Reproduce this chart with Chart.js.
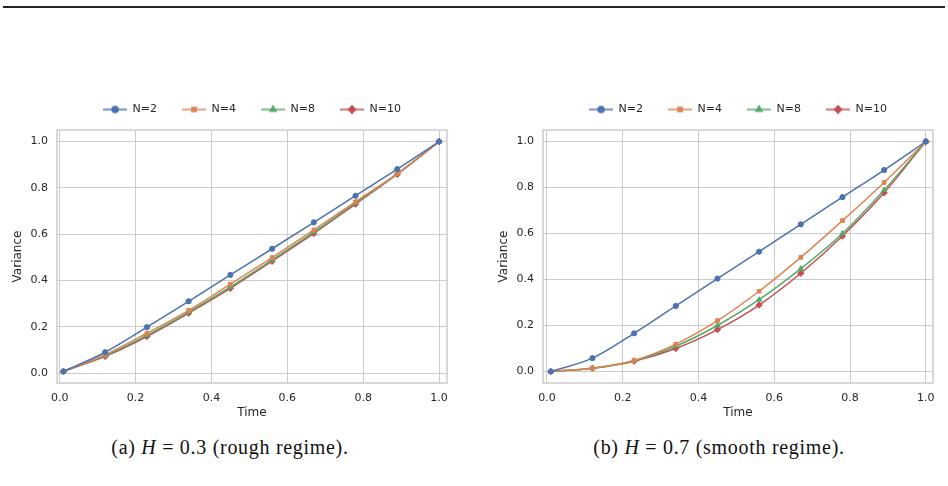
<!DOCTYPE html>
<html>
<head>
<meta charset="utf-8">
<script src="https://cdn.jsdelivr.net/npm/chart.js@4.4.1/dist/chart.umd.min.js"></script>
<style>
  html, body { margin: 0; padding: 0; background: #fff; }
  body { width: 948px; height: 486px; position: relative; overflow: hidden; }
  .rule { position: absolute; left: 3px; top: 6px; width: 942px; height: 2px; background: #222; }
  .panel { position: absolute; top: 79px; height: 346px; }
  .caption { position: absolute; top: 436px; font-family: "Liberation Serif", "DejaVu Serif", serif; font-size: 20px; letter-spacing: 0.7px; color: #111; white-space: nowrap; transform: translateX(-50%); }
</style>
</head>
<body>
<div class="rule"></div>
<div class="panel" style="left:0; width:470px;"><canvas id="rough"></canvas></div>
<div class="panel" style="left:486px; width:462px;"><canvas id="smooth"></canvas></div>
<div class="caption" style="left:230px;">(a) <i>H</i>&nbsp;= 0.3 (rough regime).</div>
<div class="caption" style="left:719px;">(b) <i>H</i>&nbsp;= 0.7 (smooth regime).</div>

<script>
// time grid and tick labels
const times = [0.01, 0.12, 0.23, 0.34, 0.45, 0.56, 0.67, 0.78, 0.89, 1.0];
const xTicks = [0.0, 0.2, 0.4, 0.6, 0.8, 1.0];
const yTicks = [0.0, 0.2, 0.4, 0.6, 0.8, 1.0];
const seriesNames = ['N=2', 'N=4', 'N=8', 'N=10'];

// (a) H = 0.3
const roughN2  = [0.007, 0.090, 0.198, 0.310, 0.424, 0.537, 0.651, 0.766, 0.881, 1.0];
const roughN4  = [0.007, 0.079, 0.172, 0.271, 0.384, 0.499, 0.618, 0.740, 0.862, 1.0];
const roughN8  = [0.007, 0.075, 0.163, 0.263, 0.372, 0.489, 0.609, 0.735, 0.860, 1.0];
const roughN10 = [0.007, 0.072, 0.158, 0.259, 0.366, 0.483, 0.603, 0.730, 0.859, 1.0];

// (b) H = 0.7
const smoothN2  = [0.0, 0.058, 0.166, 0.285, 0.404, 0.521, 0.640, 0.758, 0.876, 1.0];
const smoothN4  = [0.0, 0.014, 0.048, 0.119, 0.221, 0.349, 0.496, 0.656, 0.822, 1.0];
const smoothN8  = [0.0, 0.014, 0.047, 0.110, 0.200, 0.312, 0.447, 0.600, 0.789, 1.0];
const smoothN10 = [0.0, 0.014, 0.045, 0.100, 0.182, 0.289, 0.427, 0.589, 0.777, 1.0];

const colors = ['#4C72B0', '#DD8452', '#55A868', '#C44E52'];
const markers = ['circle', 'rect', 'triangle', 'rectRot'];
const markerSize = [2.6, 2.6, 3, 3.2];

const FONT = '"DejaVu Sans", Verdana, sans-serif';
const TEXT = '#262626';

// little line+marker swatch for the legend
function swatch(i) {
  const c = document.createElement('canvas');
  c.width = 24; c.height = 10;
  const ctx = c.getContext('2d');
  ctx.strokeStyle = colors[i];
  ctx.fillStyle = colors[i];
  ctx.lineWidth = 1.5;
  ctx.beginPath(); ctx.moveTo(0, 5); ctx.lineTo(24, 5); ctx.stroke();
  Chart.helpers.drawPoint(ctx, { pointStyle: markers[i], radius: markerSize[i] + 0.4, rotation: 0, borderWidth: 1 }, 12, 5);
  return c;
}
const swatches = seriesNames.map((n, i) => swatch(i));

// grey box around the plot area
const frame = {
  id: 'frame',
  afterDraw(chart) {
    const a = chart.chartArea, ctx = chart.ctx;
    ctx.save();
    ctx.strokeStyle = '#cccccc';
    ctx.lineWidth = 1.5;
    ctx.strokeRect(a.left, a.top, a.right - a.left, a.bottom - a.top);
    ctx.restore();
  }
};

// extra space between legend and plot
const legendGap = {
  id: 'legendGap',
  beforeInit(chart) {
    const fit = chart.legend.fit;
    chart.legend.fit = function () { fit.call(this); this.height += 5; };
  }
};

function makeChart(id, series, xRange, yRange, rightPad) {
  const datasets = series.map((vals, i) => ({
    label: seriesNames[i],
    data: times.map((t, k) => ({ x: t, y: vals[k] })),
    borderColor: colors[i],
    backgroundColor: colors[i],
    borderWidth: 1.5,
    pointStyle: markers[i],
    pointRadius: markerSize[i],
    pointBorderWidth: 1,
    cubicInterpolationMode: 'monotone'
  }));

  new Chart(document.getElementById(id), {
    type: 'line',
    data: { datasets },
    plugins: [frame, legendGap],
    options: {
      responsive: true,
      maintainAspectRatio: false,
      animation: false,
      layout: { padding: { left: 0, right: rightPad, top: 0, bottom: 0 } },
      plugins: {
        tooltip: { enabled: false },
        legend: {
          position: 'top',
          fullSize: false,
          labels: {
            usePointStyle: true,
            pointStyleWidth: 24,
            padding: 25,
            color: TEXT,
            font: { family: FONT, size: 11 },
            generateLabels: chart => chart.data.datasets.map((d, i) => ({
              text: d.label,
              pointStyle: swatches[i],
              fontColor: TEXT,
              lineWidth: 0,
              datasetIndex: i
            }))
          }
        }
      },
      scales: {
        x: {
          type: 'linear',
          min: xRange[0],
          max: xRange[1],
          afterBuildTicks: s => { s.ticks = xTicks.map(v => ({ value: v })); },
          afterFit: s => { s.height = 42; },
          ticks: { color: TEXT, font: { family: FONT, size: 11 }, padding: 9, callback: v => v.toFixed(1) },
          grid: { color: '#cccccc', lineWidth: 1, drawTicks: false },
          border: { display: false },
          title: { display: true, text: 'Time', color: TEXT, font: { family: FONT, size: 12 }, padding: { top: 0, bottom: 5 } }
        },
        y: {
          type: 'linear',
          min: yRange[0],
          max: yRange[1],
          afterBuildTicks: s => { s.ticks = yTicks.map(v => ({ value: v })); },
          afterFit: s => { s.width = 57; },
          ticks: { color: TEXT, font: { family: FONT, size: 11 }, padding: 9, callback: v => v.toFixed(1) },
          grid: { color: '#cccccc', lineWidth: 1, drawTicks: false },
          border: { display: false },
          title: { display: true, text: 'Variance', color: TEXT, font: { family: FONT, size: 12 }, padding: { top: 11, bottom: 0 } }
        }
      }
    }
  });
}

makeChart('rough', [roughN2, roughN4, roughN8, roughN10], [-0.007, 1.021], [-0.043, 1.05], 23);
makeChart('smooth', [smoothN2, smoothN4, smoothN8, smoothN10], [-0.0105, 1.019], [-0.05, 1.05], 15);
</script>
</body>
</html>
